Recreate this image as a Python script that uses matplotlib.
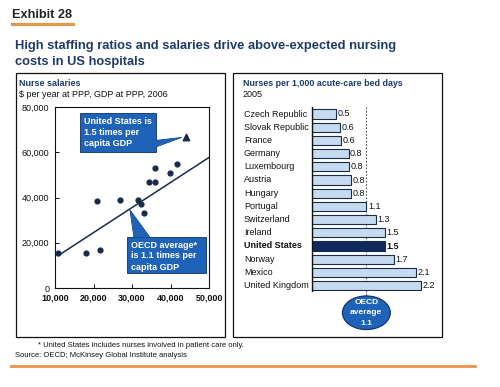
import matplotlib
matplotlib.use("Agg")
import matplotlib.pyplot as plt
from matplotlib.patches import Rectangle, Polygon, Ellipse
from matplotlib.lines import Line2D

plt.rcParams['font.family'] = ['Liberation Sans', 'DejaVu Sans']

# ---- data ----
gdp = [10900, 18100, 21800, 20800, 26900, 31600, 32400, 33200, 34400, 35900, 36100, 39800, 41600]
salary = [15400, 15500, 16700, 38300, 38800, 39000, 37300, 33300, 46800, 46800, 52900, 50800, 54800]
us_gdp = [44000]
us_salary = [66800]
fit_x = [10900, 50000]
fit_y = [14400, 57700]
x_ticks = [10000, 20000, 30000, 40000, 50000]
y_ticks = [0, 20000, 40000, 60000, 80000]

countries = ["Czech Republic", "Slovak Republic", "France", "Germany", "Luxembourg",
             "Austria", "Hungary", "Portugal", "Switzerland", "Ireland",
             "United States", "Norway", "Mexico", "United Kingdom"]
nurses = [0.5, 0.6, 0.6, 0.8, 0.8, 0.8, 0.8, 1.1, 1.3, 1.5, 1.5, 1.7, 2.1, 2.2]
bar_len = [0.48, 0.56, 0.58, 0.74, 0.75, 0.79, 0.79, 1.1, 1.29, 1.47, 1.48, 1.65, 2.11, 2.2]
oecd_avg = 1.1

W, H = 500, 387
fig = plt.figure(figsize=(W / 100, H / 100), dpi=100)
fig.patch.set_facecolor('white')

def fx(x):
    return x / W

def fy(y):
    return 1 - y / H

def rect(x0, y0, x1, y1):
    return [fx(x0), fy(y1), fx(x1) - fx(x0), fy(y0) - fy(y1)]

navy = '#1f3a68'
blue = '#1f63b8'
orange = '#e8954a'
ink = '#1a2a4a'

# Header
fig.text(fx(12), fy(15), "Exhibit 28", fontsize=9.2, fontweight='bold', color='#222222', va='center')
fig.add_artist(Line2D([fx(12), fx(73)], [fy(24), fy(24)], color=orange, lw=2.2))
fig.text(fx(15), fy(46), "High staffing ratios and salaries drive above-expected nursing",
         fontsize=9.3, fontweight='bold', color=navy, va='center')
fig.text(fx(15), fy(62), "costs in US hospitals", fontsize=9.3, fontweight='bold', color=navy, va='center')

# Panel boxes
for x0, x1 in [(15.5, 225), (232.5, 442)]:
    fig.add_artist(Rectangle((fx(x0), fy(337)), fx(x1) - fx(x0), fy(72.5) - fy(337),
                             transform=fig.transFigure, fill=False, ec='#111111', lw=0.9))

fig.text(fx(19), fy(84), "Nurse salaries", fontsize=6.5, fontweight='bold', color=navy, va='center')
fig.text(fx(19), fy(94.5), "$ per year at PPP, GDP at PPP, 2006", fontsize=6.5, color='#111111', va='center')
fig.text(fx(243), fy(84), "Nurses per 1,000 acute-care bed days", fontsize=6.4, fontweight='bold',
         color=navy, va='center')
fig.text(fx(243), fy(94.5), "2005", fontsize=6.5, color='#111111', va='center')

# ---- scatter ----
ax = fig.add_axes(rect(55, 107, 209, 288))
ax.set_xlim(10000, 50000)
ax.set_ylim(0, 80000)
ax.scatter(gdp, salary, s=12, color=ink, zorder=3)
ax.scatter(us_gdp, us_salary, s=22, marker='^', color=ink, zorder=3)
ax.plot(fit_x, fit_y, color=ink, lw=1.1, zorder=2)
ax.set_xticks(x_ticks)
ax.set_xticklabels([f"{v:,}" for v in x_ticks], fontsize=6.5, fontweight='bold')
ax.set_yticks(y_ticks)
ax.set_yticklabels([f"{v:,}" for v in y_ticks], fontsize=6.5)
ax.tick_params(length=3, width=0.7, direction='in', pad=4, colors='#111111')
for s in ax.spines.values():
    s.set_linewidth(0.8)
    s.set_color('#111111')

# Callouts (pixel coordinates)
def callout(box, tip_poly, lines, tx, ty0, dy):
    x0, y0, x1, y1 = box
    fig.add_artist(Polygon([(fx(px), fy(py)) for px, py in tip_poly], closed=True,
                           transform=fig.transFigure, fc=blue, ec='#0d2f66', lw=0.6, zorder=5))
    fig.add_artist(Rectangle((fx(x0), fy(y1)), fx(x1) - fx(x0), fy(y0) - fy(y1),
                             transform=fig.transFigure, fc=blue, ec='#0d2f66', lw=0.6, zorder=5))
    fig.add_artist(Polygon([(fx(px), fy(py)) for px, py in tip_poly], closed=True,
                           transform=fig.transFigure, fc=blue, ec='none', lw=0, zorder=6))
    for i, t in enumerate(lines):
        fig.text(fx(tx), fy(ty0 + i * dy), t, fontsize=6.5, fontweight='bold', color='white',
                 va='center', zorder=7)

callout((80, 113, 156, 152), [(155.5, 140.5), (181.5, 137.5), (155.5, 147)],
        ["United States is", "1.5 times per", "capita GDP"], 84, 121, 11.5)
callout((127, 237, 206, 273), [(134, 237.5), (130, 210), (150, 237.5)],
        ["OECD average*", "is 1.1 times per", "capita GDP"], 131, 245, 11)

# ---- bars ----
bx = fig.add_axes(rect(312, 106.7, 440, 290.7))
bx.set_xlim(0, 2.59)
bx.set_ylim(13.38, -0.55)
ypos = list(range(len(countries)))
colors = ['#0f2a5c' if c == "United States" else '#c6dbf2' for c in countries]
bx.barh(ypos, bar_len, height=0.7, color=colors, edgecolor='#1a2a4a', linewidth=0.8, zorder=2)
bx.plot([oecd_avg, oecd_avg], [-0.55, 14.2], ls=(0, (1.5, 1.5)), color='#555555', lw=0.8,
        zorder=1, clip_on=False)
for y, v, l, c in zip(ypos, nurses, bar_len, countries):
    bold = c == "United States"
    bx.text(l + 0.03, y, f"{v}", fontsize=6.5, va='center', ha='left',
            fontweight='bold' if bold else 'normal', color='#111111', zorder=3)
    fig.text(fx(244), fy(114 + y * 13.2), c, fontsize=6.5, va='center', ha='left',
             fontweight='bold' if bold else 'normal', color='#111111')
bx.set_xticks([])
bx.set_yticks([])
for k in ['top', 'right', 'bottom']:
    bx.spines[k].set_visible(False)
bx.spines['left'].set_linewidth(1.0)
bx.spines['left'].set_color('#111111')
bx.set_facecolor('none')

bx.add_patch(Ellipse((oecd_avg, 15.05), 0.97, 2.55, fc=blue, ec='#0d2f66', lw=0.8,
                     clip_on=False, zorder=4))
for i, t in enumerate(["OECD", "average", "1.1"]):
    bx.text(oecd_avg, 14.25 + i * 0.8, t, fontsize=6, fontweight='bold', color='white',
            ha='center', va='center', clip_on=False, zorder=5)

# Footer
fig.text(fx(38), fy(345.5), "* United States includes nurses involved in patient care only.",
         fontsize=5.5, color='#111111', va='center')
fig.text(fx(15), fy(355.5), "Source: OECD; McKinsey Global Institute analysis",
         fontsize=5.5, color='#111111', va='center')
fig.add_artist(Line2D([fx(11), fx(475)], [fy(366), fy(366)], color=orange, lw=2))

fig.savefig("out.png", dpi=100, facecolor='white')
